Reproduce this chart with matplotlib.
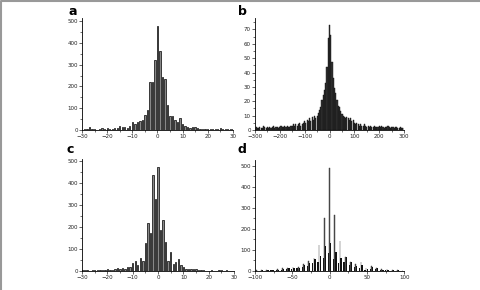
import numpy as np
import matplotlib
matplotlib.use("Agg")
import matplotlib.pyplot as plt
from matplotlib.ticker import MultipleLocator
from matplotlib.lines import Line2D

# ---- panel a: counts at -30..30
a_x = list(range(-30, 31))
a_y = [0, 3, 2, 12, 5, 2, 0, 4, 8, 5, 7, 6, 5, 8, 10, 18, 12, 15, 10, 18,
       35, 28, 38, 42, 45, 70, 90, 220, 222, 323, 478, 365, 245, 235, 115, 65,
       63, 45, 38, 55, 28, 18, 15, 8, 15, 15, 8, 5, 4, 3, 3, 2, 4, 5, 4, 8,
       3, 5, 2, 3, 2]

# ---- panel c: counts at -30..30
c_x = list(range(-30, 31))
c_y = [3, 5, 3, 2, 4, 5, 4, 5, 6, 5, 7, 5, 4, 10, 15, 10, 12, 8, 20, 20,
       38, 45, 28, 58, 45, 125, 218, 172, 435, 328, 470, 188, 232, 133, 45, 87,
       30, 40, 55, 25, 20, 8, 10, 8, 10, 8, 4, 5, 3, 2, 2, 3, 2, 2, 4, 3,
       2, 3, 2, 2, 2]

# ---- panel b: counts at -300..300 step 5
b_x = list(range(-300, 301, 5))
b_y = [1, 2, 1, 1, 2, 1, 1, 3, 2, 1, 2, 1, 2, 1, 2, 3, 1, 2, 2, 1,
       2, 3, 2, 2, 3, 2, 3, 2, 2, 3,
       3, 4, 3, 4, 3, 4, 5, 3, 4, 5,
       6, 5, 7, 6, 8, 6, 9, 7, 10, 8,
       10, 12, 14, 16, 21, 24, 28, 33, 44, 64,
       73,
       66, 47, 36, 29, 26, 21, 17, 16, 13, 11,
       10, 9, 8, 9, 8, 7, 8, 6, 7, 5,
       4, 5, 4, 3, 4, 3, 3, 4, 3, 2,
       3, 2, 3, 2, 2, 3, 2, 2, 2, 3,
       2, 3, 2, 1, 2, 2, 3, 2, 1, 2, 2, 1, 2, 2, 1, 1, 2, 1, 1, 1]

# ---- panel d: clusters every 7 units
d_x = list(range(-98, 99, 7))
d_gray = [3, 3, 4, 5, 9, 13, 16, 19, 20, 33, 47, 60, 123, 253, 490,
          266, 144, 68, 44, 32, 41, 13, 25, 16, 9, 8, 5, 4, 2]
d_black = [2, 3, 3, 4, 7, 10, 12, 15, 16, 28, 38, 58, 71, 119, 131,
           92, 60, 65, 42, 25, 30, 10, 18, 12, 7, 6, 4, 3, 2]
d_black2 = [1, 2, 2, 3, 4, 6, 8, 10, 12, 18, 25, 40, 45, 60, 85,
            55, 40, 45, 28, 18, 15, 6, 10, 8, 4, 3, 2, 2, 1]


def styl(ax, xmaj, xmin, ymaj, ymin):
    for s in ["top", "right"]:
        ax.spines[s].set_visible(False)
    for s in ["left", "bottom"]:
        ax.spines[s].set_linewidth(0.6)
    ax.xaxis.set_major_locator(MultipleLocator(xmaj))
    ax.xaxis.set_minor_locator(MultipleLocator(xmin))
    ax.yaxis.set_major_locator(MultipleLocator(ymaj))
    ax.yaxis.set_minor_locator(MultipleLocator(ymin))
    ax.tick_params(which="major", length=2, width=0.5, labelsize=4, pad=1,
                   colors="#222")
    ax.tick_params(which="minor", length=1.2, width=0.4)


fig = plt.figure(figsize=(4.8, 2.9), dpi=100)

ax = fig.add_axes([0.171, 0.552, 0.314, 0.386])
ax.bar(a_x, a_y, width=0.55, color="#888", edgecolor="#000", linewidth=0.5)
ax.set_xlim(-30, 30)
ax.set_ylim(0, 515)
styl(ax, 10, 5, 100, 50)

ax = fig.add_axes([0.531, 0.552, 0.311, 0.386])
ax.bar(b_x, b_y, width=4.5, color="#333", edgecolor="#111", linewidth=0.3)
ax.set_xlim(-300, 300)
ax.set_ylim(0, 78)
styl(ax, 100, 50, 10, 5)

ax = fig.add_axes([0.171, 0.0655, 0.3165, 0.386])
ax.bar(c_x, c_y, width=0.55, color="#888", edgecolor="#000", linewidth=0.5)
ax.set_xlim(-30, 30)
ax.set_ylim(0, 508)
styl(ax, 10, 5, 100, 50)

ax = fig.add_axes([0.531, 0.0655, 0.311, 0.382])
dx = np.array(d_x)
ax.bar(dx - 1.5, d_black2, width=1.6, color="#111", linewidth=0)
ax.bar(dx, d_gray, width=0.9, color="#555", edgecolor="#333", linewidth=0.3)
ax.bar(dx + 1.5, d_black, width=1.8, color="#111", linewidth=0)
ax.set_xlim(-100, 100)
ax.set_ylim(0, 527)
styl(ax, 50, 25, 100, 50)

for lab, x, y in [("a", 0.152, 0.962), ("b", 0.506, 0.962),
                  ("c", 0.146, 0.484), ("d", 0.504, 0.484)]:
    fig.text(x, y, lab, fontsize=9, fontweight="bold", ha="center",
             va="center")

# grey frame on top and left edge
fig.add_artist(Line2D([0.003, 0.003, 0.997], [0.0, 0.995, 0.995],
                      transform=fig.transFigure, color="#999", linewidth=1.5))

fig.savefig("out.png", dpi=100)
